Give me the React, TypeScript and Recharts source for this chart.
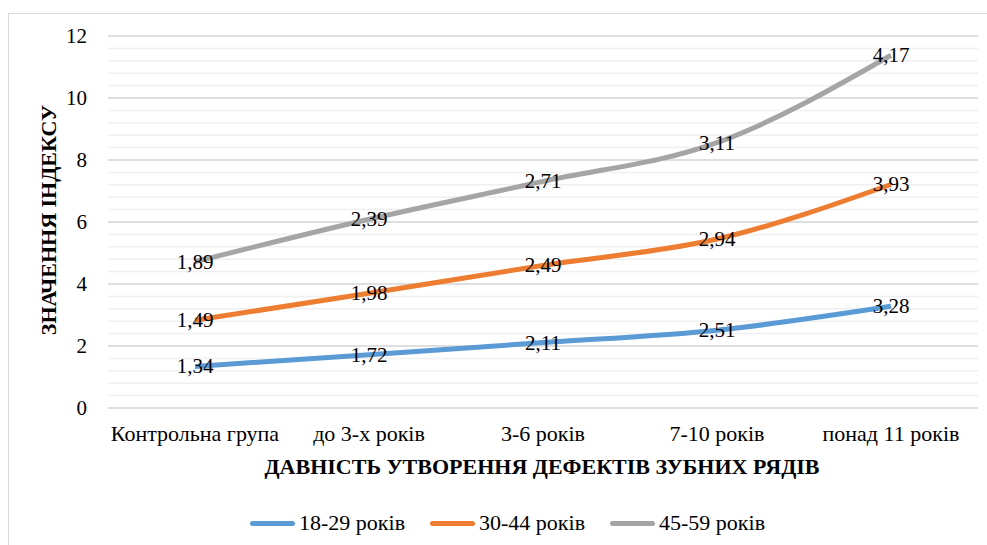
import React from 'react';
import { LineChart, Line, XAxis, YAxis, CartesianGrid, ReferenceLine, LabelList } from 'recharts';

const categories = ['Контрольна група', 'до 3-х років', '3-6 років', '7-10 років', 'понад 11 років'];
const young = [1.34, 1.72, 2.11, 2.51, 3.28];
const middle = [1.49, 1.98, 2.49, 2.94, 3.93];
const older = [1.89, 2.39, 2.71, 3.11, 4.17];
const seriesNames = ['18-29 років', '30-44 років', '45-59 років'];
const colors = ['#5b9bd5', '#ed7d31', '#a5a5a5'];
const majorTicks = [0, 2, 4, 6, 8, 10, 12];
const minorTicks = Array.from({ length: 31 }, (_, i) => Math.round(i * 4) / 10);

// stacked line chart: each series is drawn on top of the previous ones
const data = categories.map((name, i) => ({
  name,
  a: young[i],
  b: young[i] + middle[i],
  c: young[i] + middle[i] + older[i],
}));

const FONT = 'Liberation Serif';

const fmt = (v: number) => v.toFixed(2).replace('.', ',');

const makeLabel = (raw: number[]) => (props: any) => {
  const { x, y, index } = props;
  return (
    <text x={x} y={y} dy={7} textAnchor="middle" fontFamily={FONT} fontSize={21} fill="#000">
      {fmt(raw[index])}
    </text>
  );
};

const LegendRow = () => (
  <div
    style={{
      position: 'absolute',
      top: 510,
      left: 250,
      display: 'flex',
      gap: 25,
      fontFamily: FONT,
      fontSize: 22,
      color: '#000',
    }}
  >
    {seriesNames.map((n, i) => (
      <div key={n} style={{ display: 'flex', alignItems: 'center' }}>
        <div style={{ width: 45, height: 5, borderRadius: 3, background: colors[i], marginRight: 4 }} />
        <span>{n}</span>
      </div>
    ))}
  </div>
);

export default function App() {
  return (
    <div style={{ position: 'absolute', left: 0, top: 0, width: 987, height: 545, background: '#fff', overflow: 'hidden', fontFamily: FONT }}>
      <div
        style={{
          position: 'absolute',
          left: 8,
          top: 13,
          width: 990,
          height: 560,
          border: '1px solid #d9d9d9',
        }}
      />
      <div style={{ position: 'absolute', left: 0, top: 0 }}>
        <LineChart width={987} height={545} data={data} margin={{ top: 36, right: 9, bottom: 107, left: 0 }}>
          <CartesianGrid horizontal vertical={false} stroke="#f0f0f0" strokeWidth={1.5} />
          {majorTicks.map((t) => (
            <ReferenceLine key={t} y={t} stroke="#d9d9d9" strokeWidth={1.5} />
          ))}
          <XAxis
            dataKey="name"
            height={30}
            padding={{ left: 87, right: 87 }}
            axisLine={false}
            tickLine={false}
            tickSize={0}
            tickMargin={17}
            interval={0}
            tick={{ fontFamily: FONT, fontSize: 22, fill: '#000' }}
          />
          <YAxis
            width={108}
            domain={[0, 12]}
            ticks={minorTicks}
            interval={0}
            axisLine={false}
            tickLine={false}
            tickSize={0}
            tickMargin={21}
            tickFormatter={(v: number) => (majorTicks.includes(Math.round(v * 10) / 10) ? String(v) : '')}
            tick={{ fontFamily: FONT, fontSize: 21, fill: '#000' }}
          />
          <Line type="monotone" dataKey="a" stroke={colors[0]} strokeWidth={5} dot={false} isAnimationActive={false}>
            <LabelList dataKey="a" content={makeLabel(young)} />
          </Line>
          <Line type="monotone" dataKey="b" stroke={colors[1]} strokeWidth={5} dot={false} isAnimationActive={false}>
            <LabelList dataKey="b" content={makeLabel(middle)} />
          </Line>
          <Line type="monotone" dataKey="c" stroke={colors[2]} strokeWidth={5} dot={false} isAnimationActive={false}>
            <LabelList dataKey="c" content={makeLabel(older)} />
          </Line>
          <text x={542} y={474} textAnchor="middle" fontFamily={FONT} fontSize={22} fontWeight="bold" fill="#000">
            ДАВНІСТЬ УТВОРЕННЯ ДЕФЕКТІВ ЗУБНИХ РЯДІВ
          </text>
          <text
            x={56}
            y={220}
            textAnchor="middle"
            transform="rotate(-90 56 220)"
            fontFamily={FONT}
            fontSize={22}
            fontWeight="bold"
            fill="#000"
          >
            ЗНАЧЕННЯ ІНДЕКСУ
          </text>
        </LineChart>
      </div>
      <LegendRow />
    </div>
  );
}
